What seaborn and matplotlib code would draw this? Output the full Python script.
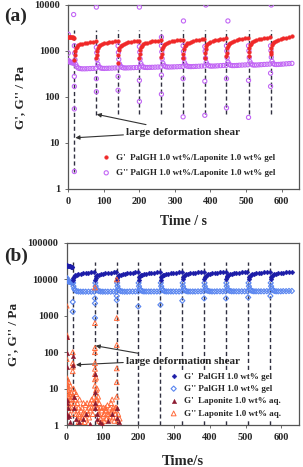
import numpy as np
import pandas as pd
import seaborn as sns
import matplotlib
matplotlib.use("Agg")
import matplotlib.pyplot as plt

sns.set_style("ticks")
plt.rcParams['font.family'] = ['Liberation Serif', 'DejaVu Serif']
plt.rcParams['font.weight'] = 'bold'

# ---------------- data ----------------
pulses = [17, 79, 140, 200, 262, 323, 384, 445, 507, 569]
offsets = [1, 2, 4, 7, 11, 16, 22, 29, 36, 44, 52, 60]
init_t = [0, 2, 4, 6, 8, 10, 12, 14, 15]

# panel (a): PalGH 1.0 wt%/Laponite 1.0 wt% gel
a_gp_init = [2050, 2000, 2000, 1980, 1980, 1970, 1970, 1960, 1950]
a_gpp_init = [620, 600, 580, 570, 560, 560, 555, 550, 550]
a_gp_cycles = [
    [800, 1000, 1150, 1250, 1330, 1390, 1440, 1490, 1530, 1560, 1590, 1610],
    [820, 1020, 1170, 1270, 1350, 1410, 1460, 1510, 1550, 1590, 1620, 1640],
    [830, 1040, 1190, 1290, 1370, 1430, 1490, 1540, 1580, 1620, 1650, 1680],
    [850, 1060, 1210, 1310, 1400, 1460, 1520, 1570, 1620, 1660, 1690, 1720],
    [870, 1080, 1230, 1340, 1430, 1500, 1560, 1610, 1660, 1700, 1740, 1770],
    [880, 1100, 1260, 1370, 1460, 1530, 1600, 1650, 1700, 1750, 1790, 1820],
    [900, 1120, 1280, 1400, 1490, 1570, 1640, 1700, 1750, 1800, 1840, 1870],
    [910, 1140, 1300, 1420, 1520, 1600, 1680, 1740, 1800, 1850, 1890, 1930],
    [930, 1160, 1330, 1450, 1560, 1640, 1720, 1790, 1850, 1900, 1950, 1990],
    [950, 1180, 1350, 1480, 1590, 1680, 1760, 1830, 1900, 1960, 2020, 2080],
]
a_gpp_cycles = [
    [900, 640, 510, 455, 425, 415, 410, 410, 412, 415, 418, 420],
    [920, 650, 520, 460, 430, 420, 418, 420, 422, 425, 428, 430],
    [930, 660, 525, 468, 440, 430, 428, 430, 432, 435, 438, 440],
    [950, 670, 535, 475, 448, 440, 438, 440, 442, 445, 448, 450],
    [960, 680, 545, 485, 458, 450, 448, 450, 452, 455, 458, 462],
    [980, 690, 555, 495, 468, 460, 458, 460, 463, 466, 470, 474],
    [990, 700, 565, 505, 478, 470, 470, 472, 476, 480, 484, 488],
    [1000, 710, 575, 515, 490, 482, 482, 485, 490, 494, 498, 502],
    [1010, 720, 585, 525, 500, 495, 496, 500, 505, 510, 515, 520],
    [1020, 730, 595, 535, 512, 508, 510, 515, 520, 526, 532, 538],
]
# scattered G'' points around the shear pulses
a_gpp_extra_t = [0, 0, 15, 17, 17, 17, 17, 17, 79, 79, 79, 79, 140, 140, 140,
                 200, 200, 200, 200, 262, 262, 262, 262, 324, 323, 323, 323,
                 387, 384, 384, 384, 449, 445, 445, 445, 507, 507, 507,
                 571, 569, 569, 569]
a_gpp_extra_v = [2300, 900, 6200, 1300, 280, 170, 55, 2.4, 9000, 1200, 250, 130,
                 1300, 280, 140, 9000, 1250, 230, 80, 2000, 1300, 300, 115,
                 4500, 1300, 250, 37, 10000, 1250, 220, 40, 4500, 1300, 250, 58,
                 1300, 230, 36, 10000, 1300, 330, 170]
a_gp_extra_t = [17, 79, 140, 200, 262, 323, 384, 445, 507, 569]
a_gp_extra_v = [650, 700, 560, 700, 750, 700, 720, 760, 780, 850]
a_dash_top = 2900
a_dash_bottom = [2.3, 40, 42, 42, 42, 42, 42, 42, 42, 42]

# panel (b): PalGH 1.0 wt% gel and Laponite 1.0 wt% aq.
b_gp_init = [25000, 24000, 23500, 23000, 23000, 23000, 22500, 22500, 22000]
b_gpp_init = [10500, 9000, 8800, 8700, 8600, 8500, 8400, 8300, 8200]
b_gp_cycles = [
    [9500, 11000, 12000, 12800, 13400, 13900, 14300, 14700, 15000, 15300, 15500, 15700],
    [9800, 11200, 12200, 12900, 13500, 14000, 14400, 14800, 15100, 15300, 15500, 15700],
    [9800, 11200, 12200, 12900, 13500, 14000, 14400, 14800, 15100, 15400, 15600, 15800],
    [9900, 11300, 12300, 13000, 13600, 14100, 14500, 14900, 15200, 15400, 15600, 15800],
    [9900, 11300, 12300, 13000, 13600, 14100, 14500, 14900, 15200, 15400, 15600, 15800],
    [10000, 11400, 12400, 13100, 13700, 14200, 14600, 15000, 15300, 15500, 15700, 15900],
    [10000, 11400, 12400, 13100, 13700, 14200, 14600, 15000, 15300, 15500, 15700, 15900],
    [10000, 11400, 12400, 13100, 13700, 14200, 14600, 15000, 15300, 15500, 15700, 15900],
    [10100, 11500, 12500, 13200, 13800, 14300, 14700, 15100, 15400, 15600, 15800, 16000],
    [10100, 11500, 12500, 13200, 13800, 14300, 14700, 15100, 15400, 15600, 15800, 16000],
]
b_gpp_cycles = [
    [8000, 6500, 5500, 5000, 4750, 4650, 4600, 4600, 4600, 4600, 4600, 4600],
    [8000, 6500, 5500, 5000, 4750, 4650, 4600, 4600, 4600, 4600, 4650, 4650],
    [8000, 6500, 5500, 5000, 4750, 4650, 4600, 4600, 4650, 4650, 4650, 4650],
    [8000, 6500, 5500, 5000, 4750, 4650, 4650, 4650, 4650, 4650, 4650, 4650],
    [8000, 6500, 5500, 5000, 4750, 4650, 4650, 4650, 4650, 4650, 4650, 4700],
    [8000, 6500, 5500, 5000, 4750, 4650, 4650, 4650, 4650, 4700, 4700, 4700],
    [8000, 6500, 5500, 5000, 4800, 4700, 4650, 4650, 4700, 4700, 4700, 4700],
    [8000, 6500, 5500, 5000, 4800, 4700, 4700, 4700, 4700, 4700, 4700, 4700],
    [8000, 6500, 5500, 5000, 4800, 4700, 4700, 4700, 4700, 4700, 4750, 4750],
    [8000, 6500, 5500, 5050, 4800, 4700, 4700, 4700, 4750, 4750, 4800, 4800],
]
b_gpp_extra_t = [0, 17, 17, 79, 79, 79, 140, 140, 200, 262, 323, 384, 445, 507, 569]
b_gpp_extra_v = [11000, 1300, 2400, 870, 2200, 3000, 2700, 3500, 1800, 2000,
                 2600, 3000, 3000, 3200, 3500]
b_dash_top = 30000
b_dash_bottom = 1

lap_gpp_t = [0, 0, 0, 0, 0, 0, 0, 1, 1, 2, 2, 3, 3, 3, 5, 5, 6, 6, 8, 8,
             10, 10, 10, 12, 12, 14, 14, 17, 17, 17, 17, 19, 19, 21, 21, 21,
             24, 24, 27, 27, 30, 30, 33, 33, 33, 36, 36, 40, 40, 43, 43, 47, 47,
             50, 50, 53, 53, 57, 57, 60, 60, 63, 63, 66, 66, 70, 70, 73, 73, 76, 76,
             79, 79, 79, 79, 79, 79, 79, 79, 79, 82, 82, 82, 85, 85, 85, 88, 88, 88,
             91, 91, 91, 95, 95, 98, 98, 102, 102, 105, 105, 108, 108, 111, 111,
             114, 114, 118, 118, 121, 121, 124, 124, 127, 127, 130, 130, 133, 133,
             136, 136, 140, 140, 140, 140, 140, 140, 140, 144, 144, 148]
lap_gpp_v = [1900, 300, 260, 65, 20, 15, 12, 10, 8, 18, 7, 12, 5, 3, 9, 4, 15, 6, 7, 3,
             12, 5, 2, 8, 4, 6, 3, 100, 50, 40, 30, 10, 6, 8, 4, 2.5,
             5, 3, 7, 2, 4, 1.5, 3, 2, 1.2, 5, 1.8, 2.5, 1.3, 3, 1.6, 4, 2.2,
             2, 1.2, 3.5, 1.5, 4, 2.5, 2, 1.1, 3, 1.6, 2.5, 4, 3, 5, 4, 2, 6, 3,
             6000, 630, 130, 100, 50, 35, 25, 18, 12, 20, 9, 5, 10, 5, 3, 6, 3, 2,
             4, 2, 1.3, 3, 1.5, 2.5, 1.2, 3, 1.8, 2, 1.3, 3, 2.5, 2.5, 1.5,
             2, 3.5, 2, 1.4, 3, 1.7, 4, 2.2, 5, 2.5, 3, 1.6, 2.5, 1.3,
             3, 2, 10000, 870, 158, 36, 15, 6, 3, 2, 1.3, 1.5]
lap_gp_t = [0, 0, 0, 0, 0, 2, 2, 4, 6, 8, 17, 18, 20, 20, 25, 35, 45, 55, 65,
            79, 79, 79, 79, 84, 84, 92, 100, 115, 128, 140, 140, 147]
lap_gp_v = [265, 97, 40, 5, 2, 4, 1.7, 3, 1.8, 1.2, 80, 45, 6, 3, 1.5, 1.2, 1.5, 2, 1.1,
            25, 8, 4, 3, 2, 1.5, 1.2, 1.1, 1.3, 2, 3, 1.6, 1.2]

a_labels = ["G'  PalGH 1.0 wt%/Laponite 1.0 wt% gel",
            "G'' PalGH 1.0 wt%/Laponite 1.0 wt% gel"]
b_labels = ["G'  PalGH 1.0 wt% gel", "G'' PalGH 1.0 wt% gel",
            "G'  Laponite 1.0 wt% aq.", "G'' Laponite 1.0 wt% aq."]
annot_text = "large deformation shear"


def series(init_v, cycles):
    t = list(init_t)
    v = list(init_v)
    for p, vals in zip(pulses, cycles):
        t += [p + o for o in offsets]
        v += vals
    return t, v


def frame(t, v):
    return pd.DataFrame({"t": t, "v": v})


# ---------------- figure ----------------
fig = plt.figure(figsize=(3.03, 4.67), dpi=100)
axa = fig.add_axes([0.2254, 0.5953, 0.7626, 0.394])
axb = fig.add_axes([0.2200, 0.0899, 0.7680, 0.3898])

red = "#f02828"
violet = "#c266f5"
navy = "#1c1ca8"
lblue = "#5a86f0"
dred = "#8c1a30"
orange = "#ff6a3a"

# panel (a)
axa.vlines(pulses, a_dash_bottom, a_dash_top, colors="#303040",
           linestyles=(0, (3, 2)), lw=1.0, zorder=1)
t, v = series(a_gpp_init, a_gpp_cycles)
df = frame(t + a_gpp_extra_t, v + a_gpp_extra_v)
sns.scatterplot(data=df, x="t", y="v", ax=axa, marker="o", s=9,
                facecolors="none", edgecolor=violet, linewidth=0.8,
                label=a_labels[1], zorder=3)
t, v = series(a_gp_init, a_gp_cycles)
df = frame(t + a_gp_extra_t, v + a_gp_extra_v)
sns.scatterplot(data=df, x="t", y="v", ax=axa, marker="o", s=7,
                color=red, edgecolor=red, linewidth=0.3,
                label=a_labels[0], zorder=4)

# panel (b)
axb.vlines(pulses, b_dash_bottom, b_dash_top, colors="#303040",
           linestyles=(0, (3, 2)), lw=1.0, zorder=1)
t, v = series(b_gp_init, b_gp_cycles)
sns.scatterplot(data=frame(t, v), x="t", y="v", ax=axb, marker="D", s=6,
                color=navy, edgecolor=navy, linewidth=0.3,
                label=b_labels[0], zorder=4)
t, v = series(b_gpp_init, b_gpp_cycles)
df = frame(t + b_gpp_extra_t, v + b_gpp_extra_v)
sns.scatterplot(data=df, x="t", y="v", ax=axb, marker="D", s=7,
                facecolors="none", edgecolor=lblue, linewidth=0.8,
                label=b_labels[1], zorder=3)
sns.scatterplot(data=frame(lap_gp_t, lap_gp_v), x="t", y="v", ax=axb,
                marker="^", s=10, color=dred, edgecolor=dred, linewidth=0.3,
                label=b_labels[2], zorder=5)
sns.scatterplot(data=frame(lap_gpp_t, lap_gpp_v), x="t", y="v", ax=axb,
                marker="^", s=12, facecolors="none", edgecolor=orange,
                linewidth=0.7, label=b_labels[3], zorder=4)

for ax, ymax, in [(axa, 10000), (axb, 100000)]:
    ax.set_yscale("log")
    ax.set_xlim(0, 650)
    ax.set_ylim(1, ymax)
    ax.set_xticks([0, 100, 200, 300, 400, 500, 600])
    ticks = [10 ** k for k in range(int(np.log10(ymax)) + 1)]
    ax.set_yticks(ticks)
    ax.set_yticklabels([str(k) for k in ticks])
    ax.yaxis.set_minor_locator(matplotlib.ticker.NullLocator())
    ax.tick_params(axis="both", labelsize=7.5, length=2, width=0.6,
                   color="#555555", pad=4)
    for lab in ax.get_xticklabels() + ax.get_yticklabels():
        lab.set_fontweight("bold")
    for sp in ax.spines.values():
        sp.set_visible(True)
        sp.set_color("#555555")
        sp.set_linewidth(0.9)
    ax.set_ylabel("G', G'' / Pa", fontsize=9.5, fontweight="bold", labelpad=6)

axa.set_xlabel("Time / s", fontsize=10, fontweight="bold", labelpad=6)
axb.set_xlabel("Time/s", fontsize=10.5, fontweight="bold", labelpad=9)

# legends
h, l = axa.get_legend_handles_labels()
axa.legend([h[1], h[0]], [l[1], l[0]], loc="lower left",
           bbox_to_anchor=(0.09, 0.02), frameon=False,
           handletextpad=0.1, labelspacing=0.8, markerscale=1.0,
           prop={"weight": "bold", "size": 6.5})
legb = axb.legend(loc="lower left", bbox_to_anchor=(0.39, 0.0), frameon=True,
                  facecolor="white", edgecolor="none", framealpha=1.0,
                  fancybox=False, handletextpad=0.1, labelspacing=0.45,
                  borderpad=0.3, prop={"weight": "bold", "size": 6.5})
legb.set_zorder(6)

# annotations
arrow = dict(arrowstyle="-|>", color="#333333", lw=0.8, mutation_scale=6,
             shrinkA=0, shrinkB=0)
axa.annotate(annot_text, xy=(80, 42), xytext=(163, 17), fontsize=8,
             fontweight="bold", va="center", ha="left",
             arrowprops=dict(arrow))
axa.annotate("", xy=(20, 13), xytext=(155, 15), arrowprops=dict(arrow))
axb.annotate(annot_text, xy=(81, 150), xytext=(165, 57), fontsize=8,
             fontweight="bold", va="center", ha="left",
             arrowprops=dict(arrow))
axb.annotate("", xy=(26, 45), xytext=(158, 52), arrowprops=dict(arrow))

fig.text(0.015, 0.965, "(a)", fontsize=14, fontweight="bold", va="center")
fig.text(0.015, 0.452, "(b)", fontsize=14, fontweight="bold", va="center")

fig.savefig("out.png", dpi=100, facecolor="white")
